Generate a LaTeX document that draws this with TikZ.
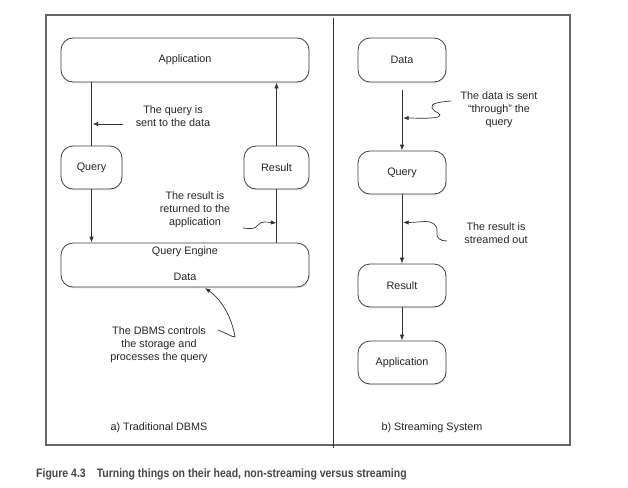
\documentclass[tikz,border=0pt]{standalone}
\usepackage{fontspec}
\setmainfont{Liberation Sans}
\newfontfamily\capfont{Liberation Sans}[FakeStretch=0.86]
\usetikzlibrary{arrows.meta,shadows}
\begin{document}
\begin{tikzpicture}[x=1pt,y=-1pt,
  box/.style={draw=black!75, line width=0.8pt, rounded corners=12pt, fill=white,
    drop shadow={opacity=0.18,shadow xshift=0.6pt,shadow yshift=-1.3pt},
    font=\fontsize{10.8}{13}\selectfont, inner sep=0pt, text=black!85},
  lbl/.style={align=center, font=\fontsize{10.8}{13}\selectfont, inner sep=0pt, text=black!85},
  conn/.style={draw=black!80, line width=0.8pt},
  arr/.style={conn, -{Latex[length=6pt,width=4.5pt]}},
  squig/.style={conn, line width=0.7pt, -{Latex[length=5.5pt,width=4.2pt]}},
]
\useasboundingbox (0,0) rectangle (628,487);
% frame
\draw[line width=1.1pt, draw=black!60] (46,15) rectangle (570,445);
\draw[line width=0.8pt, draw=black!80] (333,18) -- (333,448);

% ---- left: traditional DBMS
\node[box, minimum width=248pt, minimum height=44pt] (app) at (185,60) {Application};
\node[box, minimum width=61pt, minimum height=43pt] (qry) at (91.5,167.5) {Query};
\node[box, minimum width=65pt, minimum height=43pt] (res) at (276.5,167.5) {Result};
\node[box, minimum width=248pt, minimum height=44pt] (qe) at (185,265) {};
\node[lbl] (qet) at (185,252) {Query Engine};
\node[lbl] (qed) at (185,277) {Data};

\draw[conn] (app.south -| qry) -- (qry.north);
\draw[arr] (qry.south) -- (qe.north -| qry);
\draw[conn] (qe.north -| res) -- (res.south);
\draw[arr] (res.north) -- (app.south -| res);

\node[lbl] (l1) at (173,116) {The query is\\sent to the data};
\coordinate (l1s) at (123,124);
\coordinate (l1e) at (92.5,124);
\draw[squig] (l1s) -- (l1e);

\node[lbl] (l2) at (195,210) {The result is\\returned to the\\application};
\coordinate (l2s) at (243,228);
\coordinate (l2e) at (276.5,223);
\draw[squig] (l2s) .. controls (252,229) and (255,229) .. (258,225)
  .. controls (261,221) and (266,222) .. (l2e);

\node[lbl] (l3) at (159,345) {The DBMS controls\\the storage and\\processes the query};
\coordinate (l3s) at (218,330);
\coordinate (l3e) at (205,288);
\draw[squig] (l3s) .. controls (226,333) and (232,337) .. (235,337)
  .. controls (232,318) and (222,300) .. (l3e);

\node[lbl] (capa) at (159,428) {a) Traditional DBMS};

% ---- right: streaming
\node[box, minimum width=88pt, minimum height=44pt] (data) at (402,60) {Data};
\node[box, minimum width=88pt, minimum height=43pt] (q2) at (402,172.5) {Query};
\node[box, minimum width=88pt, minimum height=43pt] (r2) at (402,285.5) {Result};
\node[box, minimum width=88pt, minimum height=43pt] (a2) at (402,362.5) {Application};

\draw[arr, shorten <=8pt] (data.south) -- (q2.north);
\draw[arr] (q2.south) -- (r2.north);
\draw[arr] (r2.south) -- (a2.north);

\node[lbl] (l4) at (499,110) {The data is sent\\\char"201C through\char"201D{} the\\query};
\coordinate (l4s) at (451,101);
\coordinate (l4e) at (403,118);
\draw[squig] (l4s) .. controls (440,102) and (430,103) .. (432,108)
  .. controls (434,113) and (444,113) .. (438,117)
  .. controls (430,119) and (415,118) .. (l4e);

\node[lbl] (l5) at (496,233.5) {The result is\\streamed out};
\coordinate (l5s) at (447,241);
\coordinate (l5e) at (403,222.5);
\draw[squig] (l5s) .. controls (440,241) and (436,238) .. (437,232)
  .. controls (438,225) and (432,221) .. (425,221.5)
  .. controls (418,222) and (410,222.5) .. (l5e);

\node[lbl] (capb) at (432,428) {b) Streaming System};

% caption
\node[anchor=base west, inner sep=0pt, text=black!72,
  font=\capfont\bfseries\fontsize{12.2}{14}\selectfont] (cap) at (36,477)
  {Figure 4.3\hspace{11pt}Turning things on their head, non-streaming versus streaming};
\end{tikzpicture}
\end{document}
